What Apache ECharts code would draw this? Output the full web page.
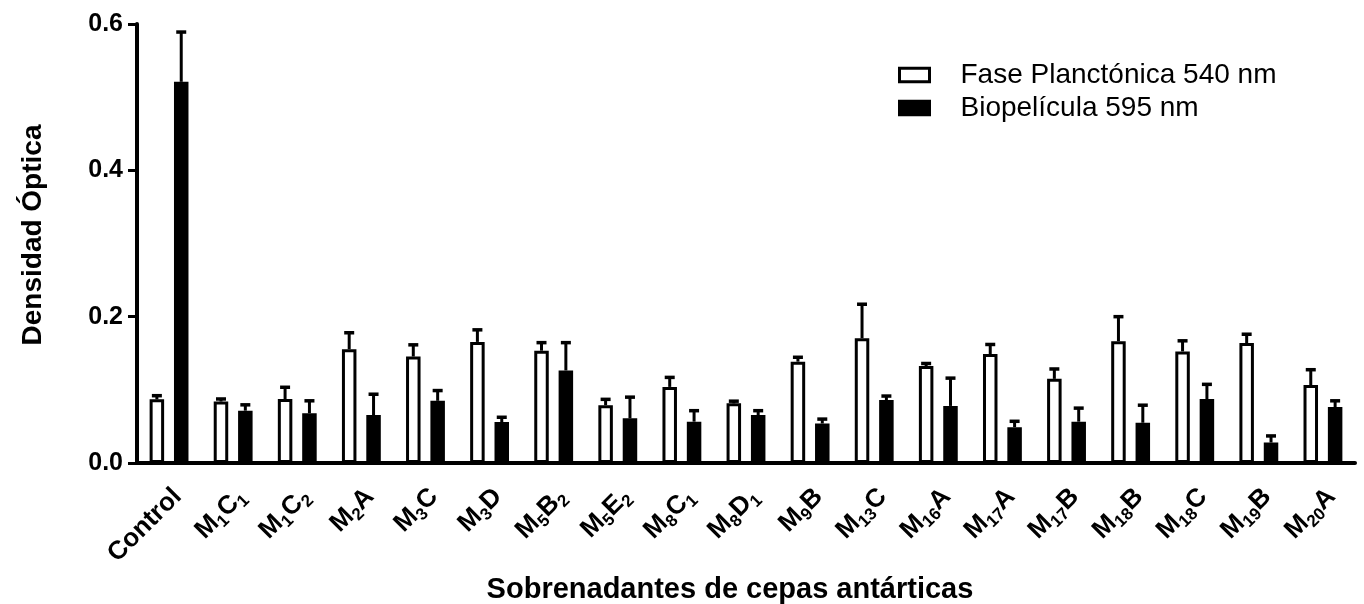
<!DOCTYPE html>
<html>
<head>
<meta charset="utf-8">
<script src="https://cdn.jsdelivr.net/npm/echarts@6/dist/echarts.min.js"></script>
<style>
html,body{margin:0;padding:0;background:#fff;}
#chart{width:1364px;height:604px;}
</style>
</head>
<body>
<div id="chart"></div>
<script>
const categories = ['Control','M1C1','M1C2','M2A','M3C','M3D','M5B2','M5E2','M8C1','M8D1','M9B','M13C','M16A','M17A','M17B','M18B','M18C','M19B','M20A'];
const planktonMean = [0.087,0.084,0.0875,0.1555,0.1455,0.1655,0.1535,0.079,0.104,0.0815,0.1385,0.1705,0.1325,0.149,0.115,0.1665,0.1525,0.164,0.1065];
const planktonErr  = [0.005,0.0035,0.016,0.0225,0.016,0.0165,0.011,0.008,0.013,0.003,0.006,0.0465,0.0035,0.013,0.0135,0.0335,0.0145,0.012,0.021];
const biofilmMean  = [0.521,0.0715,0.068,0.0655,0.085,0.056,0.1265,0.061,0.0565,0.0655,0.054,0.086,0.078,0.049,0.0565,0.055,0.0875,0.028,0.0765];
const biofilmErr   = [0.068,0.008,0.017,0.0285,0.014,0.0065,0.038,0.029,0.015,0.006,0.006,0.0055,0.038,0.008,0.0185,0.024,0.02,0.009,0.0085];
const seriesNames = ['Fase Planctónica 540 nm','Biopelícula 595 nm'];
const yTitle = 'Densidad Óptica';
const xTitle = 'Sobrenadantes de cepas antárticas';

const FONT = '"Liberation Sans", Arial, Helvetica, sans-serif';
const chart = echarts.init(document.getElementById('chart'), null, {renderer:'canvas'});

function labelFmt(name){
  // digits become subscripts
  const parts = name.split(/(\d+)/).filter(p => p.length);
  let out = parts.map(p => /^\d+$/.test(p) ? '{s|' + p + '}' : '{m|' + p + '}').join('');
  if (!/\d/.test(name)) out += '{s|\u200b}';
  return out;
}

function errRender(side){
  return function(params, api){
    const i = api.value(0), m = api.value(1), e = api.value(2);
    const bw = api.size([1,0])[0];
    const off = side * bw * 0.19;
    const p0 = api.coord([i, m]);
    const p1 = api.coord([i, m + e]);
    const x = p0[0] + off;
    return {
      type:'group',
      children:[
        {type:'line', shape:{x1:x, y1:p0[1], x2:x, y2:p1[1]}, style:{stroke:'#000', lineWidth:3}},
        {type:'line', shape:{x1:x-5, y1:p1[1], x2:x+5, y2:p1[1]}, style:{stroke:'#000', lineWidth:3.5}}
      ]
    };
  };
}

const option = {
  animation:false,
  backgroundColor:'#fff',
  grid:{left:137, right:9, top:24, bottom:141, containLabel:false},
  legend:{
    left:898, top:61, orient:'vertical', padding:0, itemGap:5,
    itemWidth:30, itemHeight:13.5, icon:'rect', selectedMode:false,
    textStyle:{fontFamily:FONT, fontSize:28, color:'#000', lineHeight:28, padding:[0,0,0,26]},
    data:[
      {name:seriesNames[0], itemStyle:{color:'#fff', borderColor:'#000', borderWidth:3}},
      {name:seriesNames[1], itemStyle:{color:'#000', borderColor:'#000', borderWidth:3}}
    ]
  },
  xAxis:{
    type:'category', data:categories,
    axisLine:{lineStyle:{color:'#000', width:4}},
    axisTick:{alignWithLabel:true, length:12, lineStyle:{color:'#000', width:3}},
    axisLabel:{
      interval:0, rotate:45, margin:41, padding:[0,-14,0,0],
      formatter: labelFmt,
      rich:{
        m:{fontFamily:FONT, fontWeight:'bold', fontSize:26, color:'#000', lineHeight:30, verticalAlign:'top'},
        s:{fontFamily:FONT, fontWeight:'bold', fontSize:17, color:'#000', lineHeight:18, verticalAlign:'top', padding:[12,0,0,0]}
      }
    },
    splitLine:{show:false}
  },
  yAxis:{
    type:'value', min:0, max:0.6, interval:0.2,
    axisLine:{show:true, lineStyle:{color:'#000', width:4}},
    axisTick:{show:true, length:9, lineStyle:{color:'#000', width:3}},
    axisLabel:{margin:14, fontFamily:FONT, fontWeight:'bold', fontSize:25, color:'#000',
      formatter: v => v.toFixed(1)},
    splitLine:{show:false}
  },
  graphic:[
    {type:'text', x:33, y:235, rotation:Math.PI/2,
     style:{text:yTitle, font:'bold 28px ' + FONT, fill:'#000', textAlign:'center', textVerticalAlign:'middle'}},
    {type:'text', x:730, y:590,
     style:{text:xTitle, font:'bold 29px ' + FONT, fill:'#000', textAlign:'center', textVerticalAlign:'middle'}}
  ],
  series:[
    {name:seriesNames[0], type:'bar', data:planktonMean, barWidth:14.5, barGap:'68%',
     itemStyle:{color:'#fff', borderColor:'#000', borderWidth:3}, z:2},
    {name:seriesNames[1], type:'bar', data:biofilmMean, barWidth:14.5,
     itemStyle:{color:'#000', borderColor:'#000', borderWidth:3}, z:2},
    {name:'errP', type:'custom', renderItem:errRender(-1), z:3,
     data: planktonMean.map((v,i)=>[i, v, planktonErr[i]])},
    {name:'errB', type:'custom', renderItem:errRender(1), z:3,
     data: biofilmMean.map((v,i)=>[i, v, biofilmErr[i]])}
  ]
};
chart.setOption(option);
</script>
</body>
</html>
